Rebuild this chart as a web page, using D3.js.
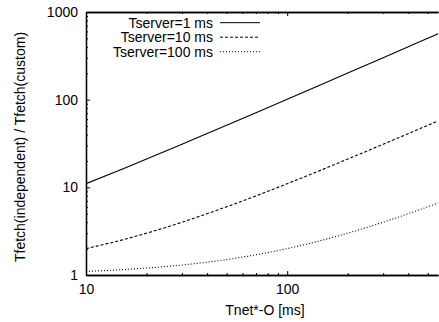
<!DOCTYPE html>
<html>
<head>
<meta charset="utf-8">
<script src="https://cdn.jsdelivr.net/npm/d3@7"></script>
<style>
  body { margin: 0; background: #fff; }
  svg { display: block; }
  text { font-family: "Liberation Sans", Arial, sans-serif; fill: #000; }
</style>
</head>
<body>
<div id="chart"></div>
<script>
// values
var tnet = [10, 15, 20, 30, 40, 50, 70, 100, 150, 200, 300, 400, 500, 562];
var server1 = [11, 16, 21, 31, 41, 51, 71, 101, 151, 201, 301, 401, 501, 563];
var server10 = [2, 2.5, 3, 4, 5, 6, 8, 11, 16, 21, 31, 41, 51, 57.2];
var server100 = [1.1, 1.15, 1.2, 1.3, 1.4, 1.5, 1.7, 2, 2.5, 3, 4, 5, 6, 6.62];
var seriesNames = ["Tserver=1 ms", "Tserver=10 ms", "Tserver=100 ms"];
var xTicks = [10, 100];
var yTicks = [1, 10, 100, 1000];

var W = 439, H = 322;
var margin = {top: 12, right: 1, bottom: 47, left: 86};
var width = W - margin.left - margin.right,
    height = H - margin.top - margin.bottom;
var fs = 14;

var svg = d3.select("#chart").append("svg").attr("width", W).attr("height", H);
var g = svg.append("g").attr("transform", "translate(" + margin.left + "," + margin.top + ")");

var x = d3.scaleLog().domain([10, 562]).range([0, width]);
var y = d3.scaleLog().domain([1, 1000]).range([height, 0]);

svg.append("defs").append("clipPath").attr("id", "clip")
  .append("rect").attr("width", width).attr("height", height);

// minor tick positions
var xMinor = [];
[10, 100].forEach(function(d) { for (var k = 2; k <= 9; k++) if (d * k <= 562) xMinor.push(d * k); });
var yMinor = [];
[1, 10, 100].forEach(function(d) { for (var k = 2; k <= 9; k++) yMinor.push(d * k); });

function axis(gen, ticks, size) {
  return gen.tickValues(ticks).tickSizeInner(-size).tickSizeOuter(0).tickPadding(6);
}

// bottom
var xb = g.append("g").attr("transform", "translate(0," + height + ")");
xb.call(axis(d3.axisBottom(x), xTicks, 4).tickFormat(d3.format("d")).tickPadding(9));
xb.append("g").call(axis(d3.axisBottom(x), xMinor, 2).tickFormat(""));
// top
var xt = g.append("g");
xt.call(axis(d3.axisTop(x), xTicks, 4).tickFormat(""));
xt.append("g").call(axis(d3.axisTop(x), xMinor, 2).tickFormat(""));
// left
var yl = g.append("g");
yl.call(axis(d3.axisLeft(y), yTicks, 4).tickFormat(d3.format("d")).tickPadding(8));
yl.append("g").call(axis(d3.axisLeft(y), yMinor, 2).tickFormat(""));

g.selectAll(".domain").attr("stroke", "#000").attr("stroke-width", 1.3);
g.selectAll(".tick line").attr("stroke", "#000");
g.selectAll(".tick text").attr("font-size", fs)
  .attr("font-family", "'Liberation Sans', Arial, sans-serif");

var dashes = [null, "3,2", "1,2"];
var series = [server1, server10, server100];
var line = d3.line()
  .x(function(d, i) { return x(tnet[i]); })
  .y(function(d) { return y(d); })
  .curve(d3.curveMonotoneX);

g.append("g").attr("clip-path", "url(#clip)")
  .selectAll("path")
  .data(series)
  .enter().append("path")
  .attr("d", line)
  .attr("fill", "none")
  .attr("stroke", "#000")
  .attr("stroke-width", 1.1)
  .attr("stroke-dasharray", function(d, i) { return dashes[i]; });

// legend
var legend = g.append("g")
  .selectAll("g")
  .data(seriesNames)
  .enter().append("g")
  .attr("transform", function(d, i) { return "translate(0," + (10.7 + i * 14.5) + ")"; });

legend.append("text")
  .attr("x", 127)
  .attr("dy", "0.35em")
  .attr("text-anchor", "end")
  .attr("font-size", fs)
  .text(function(d) { return d; });

legend.append("line")
  .attr("x1", 134).attr("x2", 174)
  .attr("stroke", "#000")
  .attr("stroke-dasharray", function(d, i) { return dashes[i]; });

// axis titles
svg.append("text")
  .attr("x", 265)
  .attr("y", 315)
  .attr("text-anchor", "middle")
  .attr("font-size", fs)
  .text("Tnet*-O [ms]");

svg.append("text")
  .attr("transform", "translate(25," + 147 + ") rotate(-90)")
  .attr("text-anchor", "middle")
  .attr("font-size", fs)
  .text("Tfetch(independent) / Tfetch(custom)");
</script>
</body>
</html>
